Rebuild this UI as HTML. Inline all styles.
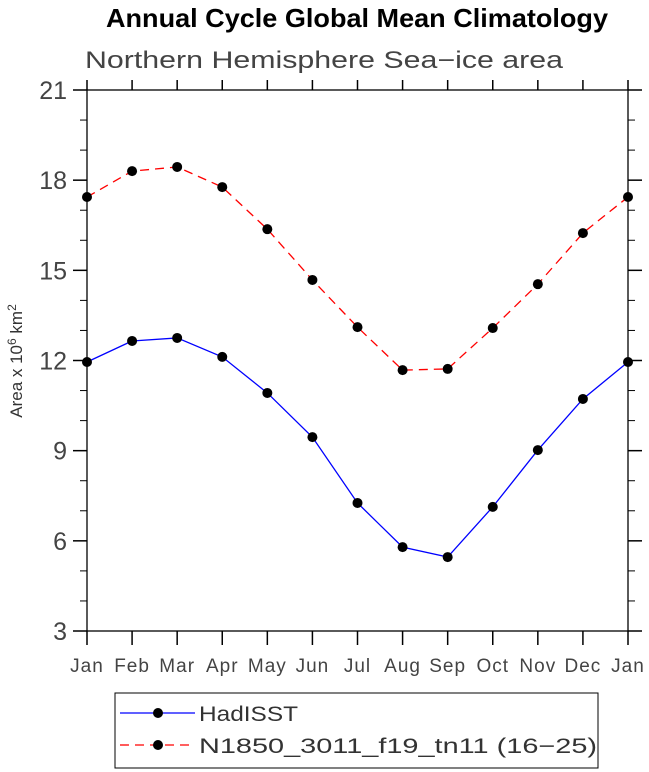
<!DOCTYPE html>
<html><head><meta charset="utf-8"><style>
body{margin:0;background:#fff;}
svg{display:block;font-family:"Liberation Sans",sans-serif;}
</style></head><body>
<svg id="c" width="649" height="772">
<text x="357" y="27" text-anchor="middle" font-size="26" font-weight="bold" textLength="502" lengthAdjust="spacingAndGlyphs">Annual Cycle Global Mean Climatology</text>
<text x="324" y="68" text-anchor="middle" font-size="24" fill="#444" textLength="478" lengthAdjust="spacingAndGlyphs">Northern Hemisphere Sea−ice area</text>
<text transform="translate(22,361) rotate(-90)" text-anchor="middle" font-size="17" fill="#333">Area x 10<tspan dy="-6" font-size="12">6</tspan><tspan dy="6"> km</tspan><tspan dy="-6" font-size="12">2</tspan></text>
<g id="ax"></g><g id="series"></g>
<rect x="115" y="693" width="483" height="75" fill="none" stroke="#000"/>
<g>
<line x1="120" y1="713" x2="195" y2="713" stroke="#00f" stroke-width="1.3"/><circle cx="158" cy="713" r="5" fill="#000"/>
<text x="199" y="721" font-size="21" fill="#333" textLength="99" lengthAdjust="spacingAndGlyphs">HadISST</text></g>
<g>
<line x1="120" y1="745" x2="195" y2="745" stroke="#f00" stroke-width="1.3" stroke-dasharray="9,6"/><circle cx="158" cy="745" r="5" fill="#000"/>
<text x="199" y="753" font-size="21" fill="#333" textLength="398" lengthAdjust="spacingAndGlyphs">N1850_3011_f19_tn11 (16−25)</text></g>
</svg>
<script>
const months=["Jan","Feb","Mar","Apr","May","Jun","Jul","Aug","Sep","Oct","Nov","Dec","Jan"];
const yTicks=[3,6,9,12,15,18,21];
const hadisst=[11.95,12.65,12.75,12.12,10.92,9.45,7.26,5.79,5.46,7.13,9.02,10.72,11.95];
const model=[17.44,18.3,18.44,17.77,16.37,14.68,13.11,11.68,11.72,13.08,14.54,16.24,17.44];
const L=87,R=628,T=90,B=631;
const xs=i=>L+(R-L)*i/12;
const ys=v=>B-(B-T)*(v-3)/18;
const NS="http://www.w3.org/2000/svg";
function mk(t,a,p){const e=document.createElementNS(NS,t);for(const k in a)e.setAttribute(k,a[k]);p.appendChild(e);return e;}
const ax=document.getElementById('ax');
const fr=mk('rect',{x:L,y:T,width:R-L,height:B-T,fill:'none',stroke:'#000','stroke-width':1.3},ax);


for(let v=3;v<=21;v++){const maj=v%3===0,len=maj?14:7,y=ys(v);
 mk('line',{x1:L-len,y1:y,x2:L,y2:y,stroke:'#000','stroke-width':maj?1.5:1},ax);
 mk('line',{x1:R,y1:y,x2:R+len,y2:y,stroke:'#000','stroke-width':maj?1.5:1},ax);}
yTicks.forEach(v=>{const t=mk('text',{x:L-20,y:ys(v)+9,'text-anchor':'end','font-size':25,fill:'#444'},ax);t.textContent=v;
 
 });
months.forEach((m,i)=>{const x=xs(i);
 mk('line',{x1:x,y1:B,x2:x,y2:B+14,stroke:'#000','stroke-width':1.5},ax);
 mk('line',{x1:x,y1:T-10,x2:x,y2:T,stroke:'#000','stroke-width':1.5},ax);
 const t=mk('text',{x:x,y:672,'text-anchor':'middle','font-size':19,fill:'#444','letter-spacing':1},ax);t.textContent=m;
 
 });
const sg=document.getElementById('series');
function draw(vals,color,dash,name){const g=mk('g',{},sg);
 
 
 mk('polyline',{points:vals.map((v,i)=>xs(i)+','+ys(v)).join(' '),fill:'none',stroke:color,'stroke-width':1.3,'stroke-dasharray':dash},g);
 vals.forEach((v,i)=>{const c=mk('circle',{cx:xs(i),cy:ys(v),r:5,fill:'#000'},g);
  
  });}
draw(model,'#f00','9,6','series-n1850');
draw(hadisst,'#00f','none','series-hadisst');
</script>
</body></html>
